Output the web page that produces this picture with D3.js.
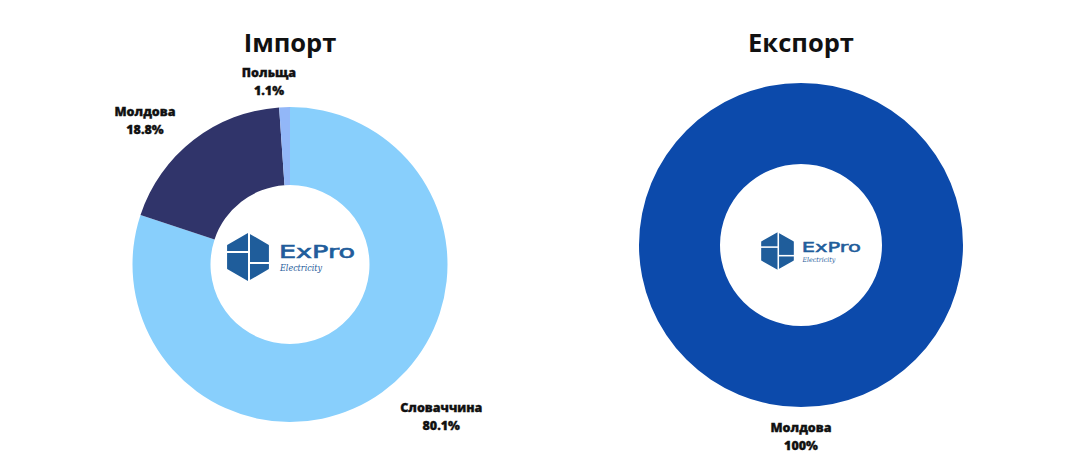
<!DOCTYPE html>
<html>
<head>
<meta charset="utf-8">
<script src="https://cdn.jsdelivr.net/npm/d3@7"></script>
<style>
  html, body { margin: 0; padding: 0; background: #ffffff; }
  svg { display: block; font-family: "Open Sans", "Noto Sans", sans-serif; }
</style>
</head>
<body>
<svg id="chart" width="1073" height="472"></svg>
<script>
// ---- Data ----
const importCategories = ["Словаччина", "Молдова", "Польща"];
const importValues = [80.1, 18.8, 1.1];
const importLabels = ["80.1%", "18.8%", "1.1%"];

const exportCategories = ["Молдова"];
const exportValues = [100];
const exportLabels = ["100%"];

const titles = ["Імпорт", "Експорт"];

// ---- Layout / style ----
const charts = [
  { title: titles[0], cats: importCategories, vals: importValues, labels: importLabels,
    colors: ["#88cffc", "#30346a", "#92b7f8"],
    cx: 290, cy: 264.5, rOuter: 157.5, rInner: 79.5, titleY: 52,
    logo: { x: 248, y: 257, s: 1 } },
  { title: titles[1], cats: exportCategories, vals: exportValues, labels: exportLabels,
    colors: ["#0c4aab"],
    cx: 801, cy: 245, rOuter: 162, rInner: 81, titleY: 52,
    logo: { x: 777.5, y: 251, s: 0.78 } }
];

const svg = d3.select("#chart");
const logoColor = "#1f5d9b";

function drawLogo(g, s) {
  const r = 23;
  const hex = d3.range(6).map(i => {
    const a = Math.PI / 3 * i - Math.PI / 2;
    return [r * Math.cos(a), r * Math.sin(a)];
  });
  g.append("path")
    .attr("d", d3.line().curve(d3.curveLinearClosed)(hex))
    .attr("fill", logoColor)
    .attr("stroke", logoColor).attr("stroke-width", 2).attr("stroke-linejoin", "round");
  g.append("line").attr("x1", 1).attr("x2", 1).attr("y1", -r - 2).attr("y2", r + 2)
    .attr("stroke", "#fff").attr("stroke-width", 2);
  g.append("line").attr("x1", -r).attr("x2", 1).attr("y1", -5).attr("y2", -5)
    .attr("stroke", "#fff").attr("stroke-width", 2);
  g.append("line").attr("x1", 1).attr("x2", r).attr("y1", 6).attr("y2", 6)
    .attr("stroke", "#fff").attr("stroke-width", 2);
  g.append("text")
    .attr("x", 31).attr("y", 1)
    .attr("font-family", "DejaVu Sans, sans-serif")
    .attr("font-size", 17).attr("font-weight", 400)
    .attr("stroke", logoColor).attr("stroke-width", 0.6)
    .attr("textLength", 76).attr("lengthAdjust", "spacingAndGlyphs")
    .attr("fill", logoColor)
    .text("ExPro");
  g.append("text")
    .attr("x", 32).attr("y", 14)
    .attr("font-family", "DejaVu Serif, serif")
    .attr("font-style", "italic")
    .attr("font-size", 8.5)
    .attr("textLength", 42).attr("lengthAdjust", "spacingAndGlyphs")
    .attr("fill", logoColor)
    .text("Electricity");
  g.attr("transform", g.attr("transform") + ` scale(${s})`);
}

charts.forEach(c => {
  const g = svg.append("g").attr("transform", `translate(${c.cx},${c.cy})`);
  const data = c.cats.map((name, i) => ({ name, value: c.vals[i], label: c.labels[i], color: c.colors[i] }));
  const pie = d3.pie().sort(null).value(d => d.value).startAngle(0).endAngle(2 * Math.PI);
  const arc = d3.arc().innerRadius(c.rInner).outerRadius(c.rOuter);
  const arcs = pie(data);

  g.selectAll("path.slice").data(arcs).join("path")
    .attr("class", "slice")
    .attr("d", arc)
    .attr("fill", d => d.data.color);

  svg.append("text")
    .attr("x", c.cx).attr("y", c.titleY)
    .attr("text-anchor", "middle")
    .attr("font-size", 25.5).attr("font-weight", 700)
    .attr("fill", "#111")
    .text(c.title);

  const clamp = v => Math.max(-1, Math.min(1, v * 10));
  arcs.forEach(d => {
    const a = (d.startAngle + d.endAngle) / 2;
    const sx = Math.sin(a), sy = -Math.cos(a);
    const ex = c.rOuter * sx, ey = c.rOuter * sy;
    const t = g.append("text")
      .attr("text-anchor", "middle")
      .attr("font-size", 12.5).attr("font-weight", 800)
      .attr("fill", "#111").attr("stroke", "#111").attr("stroke-width", 0.35);
    t.append("tspan").attr("x", 0).attr("dy", 0).text(d.data.name);
    t.append("tspan").attr("x", 0).attr("dy", 18).text(d.data.label);
    const bb = t.node().getBBox();
    const hw = bb.width / 2, hh = bb.height / 2;
    const lx = ex + clamp(sx) * (hw + 18);
    const ly = ey + sy * (hh + 10) + 2;
    const offY = ly - (bb.y + hh);
    t.attr("transform", `translate(${lx},${offY})`);
  });

  const lg = svg.append("g").attr("transform", `translate(${c.logo.x},${c.logo.y})`);
  drawLogo(lg, c.logo.s);
});
</script>
</body>
</html>
